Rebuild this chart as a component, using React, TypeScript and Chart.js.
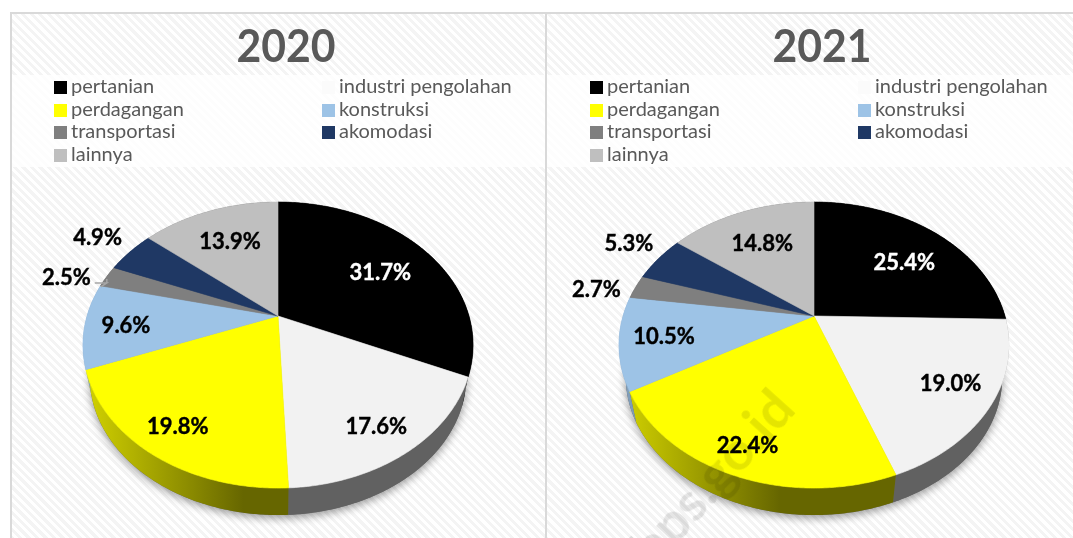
import React, { useEffect, useRef } from "react";
import { Chart, registerables, PieController, ArcElement } from "chart.js";

const CATEGORIES = ["pertanian", "industri pengolahan", "perdagangan", "konstruksi", "transportasi", "akomodasi", "lainnya"];
const VALUES_2020 = [31.7, 17.6, 19.8, 9.6, 2.5, 4.9, 13.9];
const VALUES_2021 = [25.4, 19.0, 22.4, 10.5, 2.7, 5.3, 14.8];
const COLORS = ["#000000", "#f2f2f2", "#ffff00", "#9dc3e6", "#7f7f7f", "#1f3864", "#bfbfbf"];
const LEGEND_COLORS = ["#000000", "#fbfbfb", "#ffff00", "#9dc3e6", "#7f7f7f", "#1f3864", "#bfbfbf"];

// pixel nudges of the value labels away from the default anchor in each slice
const LABEL_NUDGE_2020 = [[5, 2], [20, 28], [-24, 27], [-27, 4], [-98, -12], [-81, -35], [-1, -2]];
const LABEL_NUDGE_2021 = [[9, 4], [27, 12], [-18, 34], [-25, 4], [-100, -7], [-81, -34], [-2, -1]];

const TILT = 0.718;
const PERSPECTIVE = 0.203;
const LOWER_SCALE = 0.965;
const LOWER_CENTER = 29;
const LOWER_DROP = 32;
const FONT = "Lato, Carlito, sans-serif";

function rim(p: any, t: number, f = 1) {
  const u = f * Math.cos(t), v = f * Math.sin(t), w = 1 - PERSPECTIVE * v;
  return { x: p.x + (p.outerRadius * u) / w, y: p.y + (p.outerRadius * TILT * v) / w };
}
function lowerRim(p: any, t: number) {
  const a = rim(p, t);
  const yc = p.y + LOWER_CENTER;
  return { x: p.x + LOWER_SCALE * (a.x - p.x), y: yc + LOWER_SCALE * (a.y - yc) + LOWER_DROP };
}
function shade(hex: string, k: number) {
  const n = parseInt(hex.slice(1), 16);
  const c = [(n >> 16) & 255, (n >> 8) & 255, n & 255].map((v) => Math.round(v * k));
  return `rgb(${c[0]},${c[1]},${c[2]})`;
}

class TiltedArc extends ArcElement {
  static id = "tiltedArc";
  static defaults = { ...ArcElement.defaults };
  draw(ctx: CanvasRenderingContext2D) {
    const p: any = (this as any).getProps(["x", "y", "startAngle", "endAngle", "outerRadius"]);
    const n = Math.max(2, Math.ceil((p.endAngle - p.startAngle) / 0.01));
    ctx.save();
    ctx.beginPath();
    ctx.moveTo(p.x, p.y);
    for (let i = 0; i <= n; i++) {
      const q = rim(p, p.startAngle + ((p.endAngle - p.startAngle) * i) / n);
      ctx.lineTo(q.x, q.y);
    }
    ctx.closePath();
    ctx.fillStyle = (this as any).options.backgroundColor;
    ctx.fill();
    ctx.strokeStyle = (this as any).options.backgroundColor;
    ctx.lineWidth = 0.6;
    ctx.stroke();
    ctx.restore();
  }
  drawSide(ctx: CanvasRenderingContext2D) {
    const p: any = (this as any).getProps(["x", "y", "startAngle", "endAngle", "outerRadius"]);
    const n = Math.max(2, Math.ceil((p.endAngle - p.startAngle) / 0.01));
    const base = (this as any).options.backgroundColor;
    const g = ctx.createLinearGradient(p.x - p.outerRadius, 0, p.x + p.outerRadius, 0);
    g.addColorStop(0, shade(base, 0.82));
    g.addColorStop(0.41, shade(base, 0.4));
    g.addColorStop(1, shade(base, 0.4));
    ctx.save();
    ctx.beginPath();
    for (let i = 0; i <= n; i++) {
      const q = rim(p, p.startAngle + ((p.endAngle - p.startAngle) * i) / n);
      i ? ctx.lineTo(q.x, q.y) : ctx.moveTo(q.x, q.y);
    }
    for (let i = n; i >= 0; i--) {
      const q = lowerRim(p, p.startAngle + ((p.endAngle - p.startAngle) * i) / n);
      ctx.lineTo(q.x, q.y);
    }
    ctx.closePath();
    ctx.fillStyle = g;
    ctx.fill();
    ctx.restore();
  }
}

class TiltedPie extends PieController {
  static id = "tiltedPie";
  static defaults = { dataElementType: "tiltedArc" };
  draw() {
    const ctx = (this as any).chart.ctx as CanvasRenderingContext2D;
    const arcs = (this as any).getMeta().data as any[];
    if (arcs.length) {
      const p = arcs[0].getProps(["x", "y", "outerRadius"]);
      ctx.save();
      ctx.beginPath();
      for (let i = 0; i <= 360; i++) {
        const q = lowerRim(p, (i / 180) * Math.PI);
        i ? ctx.lineTo(q.x, q.y) : ctx.moveTo(q.x, q.y);
      }
      ctx.closePath();
      ctx.shadowColor = "rgba(0,0,0,0.4)";
      ctx.shadowBlur = 9;
      ctx.shadowOffsetY = 3;
      ctx.fillStyle = "#666";
      ctx.fill();
      ctx.restore();
    }
    arcs.forEach((a) => a.drawSide(ctx));
    super.draw();
  }
}

Chart.register(...registerables, TiltedArc as any, TiltedPie as any);

const valueLabels = {
  id: "valueLabels",
  afterDatasetsDraw(chart: any, _args: any, opts: any) {
    const ctx = chart.ctx as CanvasRenderingContext2D;
    const arcs = chart.getDatasetMeta(0).data;
    const values = chart.data.datasets[0].data;
    const colors = chart.data.datasets[0].backgroundColor;
    ctx.save();
    if (opts.leader !== undefined) {
      const a = arcs[opts.leader];
      const p = a.getProps(["x", "y", "startAngle", "endAngle", "outerRadius"]);
      const e = rim(p, (p.startAngle + p.endAngle) / 2, 1.0);
      const ey = e.y + 6.5;
      ctx.strokeStyle = "#a6a6a6";
      ctx.lineWidth = 1.5;
      ctx.beginPath();
      ctx.moveTo(e.x - 12, ey);
      ctx.lineTo(e.x, ey);
      ctx.lineTo(e.x - 6, ey + 4);
      ctx.moveTo(e.x, ey);
      ctx.lineTo(e.x, e.y + 2.5);
      ctx.stroke();
    }
    ctx.font = `bold 22px ${FONT}`;
    ctx.textAlign = "center";
    ctx.textBaseline = "middle";
    ctx.lineWidth = 0.4;
    arcs.forEach((a: any, i: number) => {
      const p = a.getProps(["x", "y", "startAngle", "endAngle", "outerRadius"]);
      const q = rim(p, (p.startAngle + p.endAngle) / 2, 0.65);
      const [dx, dy] = opts.nudge[i];
      const ink = colors[i] === "#000000" ? "#fff" : "#000";
      ctx.fillStyle = ink;
      ctx.strokeStyle = ink;
      const text = values[i].toFixed(1) + "%";
      ctx.fillText(text, q.x + dx, q.y + dy);
      ctx.strokeText(text, q.x + dx, q.y + dy);
    });
    ctx.restore();
  },
};

function Panel({ year, values, nudge, left, leader }: any) {
  const ref = useRef<HTMLCanvasElement>(null);
  useEffect(() => {
    const chart = new Chart(ref.current as HTMLCanvasElement, {
      type: "tiltedPie" as any,
      data: { labels: CATEGORIES, datasets: [{ data: values, backgroundColor: COLORS, borderWidth: 0 }] },
      options: {
        responsive: false,
        animation: false,
        layout: { padding: { top: 113, bottom: 31, left: 40, right: 40 } },
        plugins: {
          legend: { display: false },
          tooltip: { enabled: false },
          title: { display: false },
          valueLabels: { nudge, leader },
        } as any,
      },
      plugins: [valueLabels],
    } as any);
    return () => chart.destroy();
  }, []);
  return (
    <div style={{ position: "absolute", left, top: 12, width: 536, height: 526 }}>
      <div
        style={{
          position: "absolute", left: 0, top: 63, width: 536, height: 92,
          background: "rgba(255,255,255,0.8)",
        }}
      />
      <canvas ref={ref} width={536} height={526} style={{ position: "absolute", left: 0, top: 0, display: "block" }} />
      <div style={{ position: "absolute", left: 176, top: 6, width: 200, height: 54, lineHeight: "54px", textAlign: "center", fontFamily: FONT, fontWeight: 700, fontSize: 45, color: "#595959", transform: "scaleX(0.95)" }}>
        {year}
      </div>
      {CATEGORIES.map((c, i) => {
        const col = i % 2, row = Math.floor(i / 2);
        return (
          <div key={c} style={{ position: "absolute", left: col ? 312 : 44, top: 62 + row * 22.7, height: 22, whiteSpace: "nowrap", lineHeight: "22px", fontFamily: FONT, fontSize: 20, color: "#595959" }}>
            <span style={{ position: "absolute", left: 0, top: 7, width: 13, height: 13, background: LEGEND_COLORS[i] }} />
            <span style={{ position: "absolute", left: 17 }}>{c}</span>
          </div>
        );
      })}
    </div>
  );
}

export default function App() {
  return (
    <div style={{ position: "fixed", left: 0, top: 0, width: 1073, height: 538, overflow: "hidden", background: "#fff" }}>
      <div
        style={{
          position: "absolute", left: 10, top: 12, width: 1063, height: 526,
          background: "repeating-linear-gradient(45deg,#f4f4f4 0,#f4f4f4 3px,#fff 3px,#fff 6px)",
        }}
      />
      <Panel year="2020" values={VALUES_2020} nudge={LABEL_NUDGE_2020} left={10} leader={4} />
      <Panel year="2021" values={VALUES_2021} nudge={LABEL_NUDGE_2021} left={546} />
      <div style={{ position: "absolute", left: 10, top: 12, width: 1063, height: 2, background: "#d9d9d9" }} />
      <div style={{ position: "absolute", left: 10, top: 12, width: 2, height: 526, background: "#d9d9d9" }} />
      <div style={{ position: "absolute", left: 545, top: 12, width: 2, height: 526, background: "#d9d9d9" }} />
      <div style={{ position: "absolute", left: 600, top: 447, width: 222, height: 60, lineHeight: "60px", textAlign: "center", transform: "rotate(-48deg)", fontFamily: FONT, fontWeight: 700, fontSize: 54, color: "rgba(0,0,0,0.1)", whiteSpace: "nowrap" }}>
        bps.go.id
      </div>
    </div>
  );
}
